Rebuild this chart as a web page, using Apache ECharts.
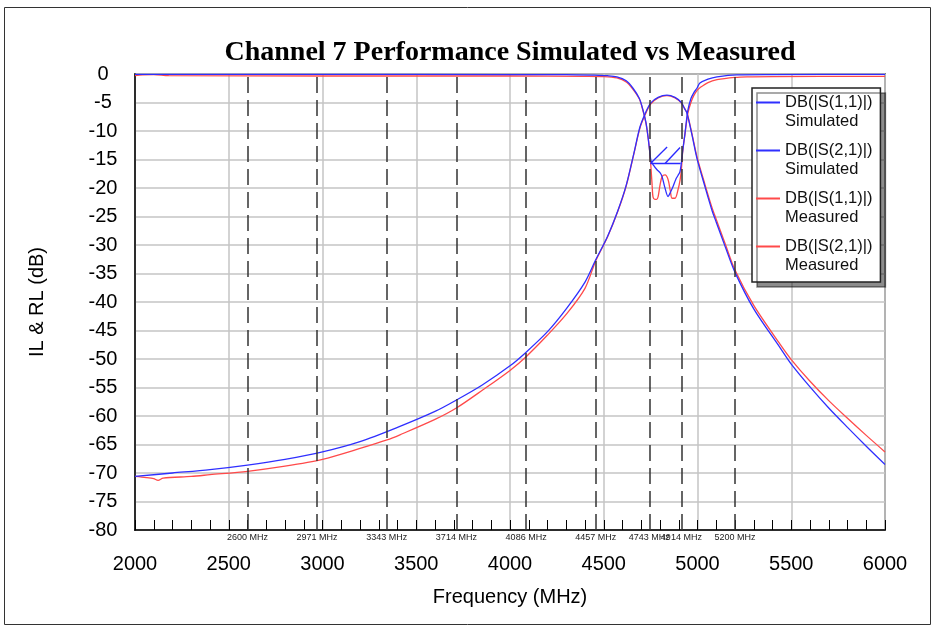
<!DOCTYPE html>
<html>
<head>
<meta charset="utf-8">
<script src="https://cdn.jsdelivr.net/npm/echarts@6/dist/echarts.min.js"></script>
<style>html,body{margin:0;padding:0;background:#fff;}#c{width:935px;height:630px;}</style>
</head>
<body>
<div id="c"></div>
<script>
// ---- data ----
const s21SimFreq = [2000,2200,2400,2600,2800,3000,3200,3400,3600,3714,3850,4000,4086,4200,4300,4400,4457,4520,4576,4620,4660,4693,4720,4750,4790,4837,4880,4914,4930,4944,4970,4997,5040,5077,5100,5150,5200,5300,5440,5500,5600,5700,5800,5900,6000];
const s21Sim     = [-70.6,-70.0,-69.4,-68.6,-67.6,-66.3,-64.5,-62.0,-59.2,-57.2,-54.6,-51.2,-48.8,-45.2,-41.2,-36.5,-32.6,-28.5,-23.9,-19.5,-14.0,-9.3,-7.0,-5.1,-4.1,-3.7,-4.1,-5.0,-6.0,-6.9,-10.6,-14.8,-19.8,-23.9,-26.0,-30.5,-34.8,-41.2,-48.0,-50.9,-54.9,-58.6,-62.0,-65.3,-68.5];

const s21MeasFreq = [2000,2060,2100,2123,2150,2300,2400,2600,2800,3000,3200,3344,3413,3600,3714,3856,4000,4086,4200,4304,4400,4457,4520,4576,4620,4660,4693,4720,4750,4790,4837,4880,4914,4930,4944,4970,4997,5040,5077,5100,5150,5200,5300,5440,5500,5600,5700,5800,5900,6000];
const s21Meas     = [-70.6,-70.8,-71.0,-71.3,-70.9,-70.6,-70.3,-69.7,-68.8,-67.6,-65.7,-64.2,-63.3,-60.6,-58.6,-55.4,-52.0,-49.6,-45.8,-42.0,-37.6,-32.8,-28.6,-24.0,-19.6,-14.1,-9.5,-7.2,-5.3,-4.2,-3.8,-4.2,-5.1,-6.0,-6.8,-10.4,-14.5,-19.4,-23.4,-25.5,-30.0,-34.4,-40.6,-47.4,-50.1,-53.9,-57.3,-60.4,-63.4,-66.3];

const s11SimFreq = [2000,3000,4000,4300,4450,4520,4570,4620,4656,4690,4709,4725,4736,4745,4752,4765,4784,4800,4811,4825,4843,4855,4869,4884,4896,4906,4914,4920,4927,4933,4940,4949,4965,4980,4997,5013,5056,5104,5210,5400,6000];
const s11Sim     = [-0.05,-0.05,-0.1,-0.1,-0.2,-0.3,-0.5,-1.2,-2.5,-4.3,-6.3,-8.5,-11.0,-13.5,-15.2,-16.0,-16.8,-17.3,-18.0,-19.8,-21.5,-20.8,-19.8,-18.5,-17.8,-17.2,-15.6,-13.8,-12.0,-10.5,-8.5,-6.3,-4.3,-3.3,-2.5,-1.6,-0.9,-0.5,-0.15,-0.1,-0.05];

const s11MeasFreq = [2000,2040,2100,2180,3000,4000,4400,4500,4570,4620,4656,4690,4709,4725,4736,4745,4752,4758,4763,4773,4782,4790,4800,4811,4827,4843,4855,4864,4880,4896,4907,4914,4920,4927,4933,4940,4949,4965,4980,5000,5013,5056,5104,5200,5264,5400,6000];
const s11Meas     = [-0.3,-0.15,-0.1,-0.3,-0.35,-0.35,-0.4,-0.45,-0.7,-1.4,-2.7,-4.4,-6.4,-8.6,-11.0,-13.6,-16.5,-19.5,-21.6,-22.0,-22.0,-21.5,-19.5,-18.0,-17.7,-18.5,-20.5,-21.8,-21.8,-20.3,-18.6,-16.8,-14.0,-12.0,-10.6,-8.8,-6.8,-5.0,-3.8,-2.8,-2.4,-1.5,-1.0,-0.6,-0.5,-0.45,-0.4];

// dashed frequency markers (MHz)
const markerFreqs = [2600,2971,3343,3714,4086,4457,4743,4914,5200];
// return-loss spec line and hatch segments [[f1,dB1],[f2,dB2]]
const specSegments = [
  [[4750,-15.7],[4910,-15.7]],
  [[4749,-15.7],[4838,-12.8]],
  [[4827,-15.7],[4907,-12.9]]
];

const xTicks = {min:2000, max:6000, step:500};
const yTicks = {min:-80, max:0, step:5};

const names = ['DB(|S(1,1)|)\nSimulated','DB(|S(2,1)|)\nSimulated','DB(|S(1,1)|)\nMeasured','DB(|S(2,1)|)\nMeasured'];
const BLUE = '#2f2fff', RED = '#ff4a4a';

const zip = (f, v) => f.map((x, i) => [x, v[i]]);
const legendIcon = 'path://M0,0L0.5,0L0.5,0.01L0,0.01Z M0,8.6L24,8.6L24,10.4L0,10.4Z M0,37.99L0.5,37.99L0.5,38L0,38Z';

const chart = echarts.init(document.getElementById('c'), null, {renderer:'canvas'});
const font = 'Liberation Sans, Arial, sans-serif';

chart.setOption({
  animation: false,
  backgroundColor: '#fff',
  title: {
    text: 'Channel 7 Performance Simulated vs Measured',
    left: 505, top: 34, textAlign: 'center',
    textStyle: {fontFamily: 'Liberation Serif, Times New Roman, serif', fontWeight: 'bold', fontSize: 28, color: '#000'}
  },
  graphic: [{
    type: 'rect', silent: true, z: -1,
    shape: {x: 4.5, y: 7.5, width: 926, height: 617},
    style: {fill: 'none', stroke: '#333', lineWidth: 1}
  }],
  grid: {left: 135, right: 50, top: 74, bottom: 100, show: true, borderColor: '#808080', borderWidth: 2, backgroundColor: 'transparent'},
  legend: {
    orient: 'vertical', left: 752, top: 88,
    itemWidth: 24, itemHeight: 38, itemGap: 10,
    padding: [5, 8, 7, 4],
    backgroundColor: '#fff', borderColor: '#222', borderWidth: 1.5,
    shadowColor: 'rgba(0,0,0,0.45)', shadowBlur: 0, shadowOffsetX: 5, shadowOffsetY: 5,
    itemStyle: {borderWidth: 0},
    textStyle: {fontFamily: font, fontSize: 16.5, lineHeight: 19, color: '#111'},
    data: names.map(n => ({name: n, icon: legendIcon}))
  },
  xAxis: {
    type: 'value', min: xTicks.min, max: xTicks.max, interval: xTicks.step,
    name: 'Frequency (MHz)', nameLocation: 'middle', nameGap: 57,
    nameTextStyle: {fontFamily: font, fontSize: 20, color: '#000'},
    axisLine: {show: true, onZero: false, lineStyle: {color: '#000', width: 1.5}},
    axisTick: {show: true, inside: true, length: 10, lineStyle: {color: '#000', width: 1}},
    minorTick: {show: true, splitNumber: 5, length: 10, lineStyle: {color: '#000', width: 1}},
    axisLabel: {fontFamily: font, fontSize: 20, color: '#000', margin: 24, formatter: v => String(v)},
    splitLine: {show: true, lineStyle: {color: '#c4c4c4', width: 1.5}}
  },
  yAxis: {
    type: 'value', min: yTicks.min, max: yTicks.max, interval: yTicks.step,
    name: 'IL & RL (dB)', nameLocation: 'middle', nameGap: 88, nameRotate: 90,
    nameTextStyle: {fontFamily: font, fontSize: 20, color: '#000'},
    axisLine: {show: true, onZero: false, lineStyle: {color: '#000', width: 1.5}},
    axisTick: {show: false},
    axisLabel: {fontFamily: font, fontSize: 20, color: '#000', margin: 32, align: 'center', formatter: v => String(v)},
    splitLine: {show: true, lineStyle: {color: '#c4c4c4', width: 1.5}}
  },
  series: [
    {
      name: names[2], type: 'line', showSymbol: false, smooth: 0.3, data: zip(s11MeasFreq, s11Meas),
      color: RED, lineStyle: {color: RED, width: 1.3}, z: 2,
      markLine: {
        silent: true, symbol: ['none', 'none'], animation: false,
        lineStyle: {type: [16, 7], color: '#333', width: 1.5},
        label: {show: true, position: 'start', distance: 3, formatter: p => p.value + ' MHz', fontFamily: font, fontSize: 9, color: '#222'},
        data: markerFreqs.map(f => ({xAxis: f}))
      }
    },
    {name: names[3], type: 'line', showSymbol: false, smooth: 0.3, data: zip(s21MeasFreq, s21Meas), color: RED, lineStyle: {color: RED, width: 1.3}, z: 2},
    {name: names[0], type: 'line', showSymbol: false, smooth: 0.3, data: zip(s11SimFreq, s11Sim), color: BLUE, lineStyle: {color: BLUE, width: 1.3}, z: 3},
    {name: names[1], type: 'line', showSymbol: false, smooth: 0.3, data: zip(s21SimFreq, s21Sim), color: BLUE, lineStyle: {color: BLUE, width: 1.3}, z: 3},
    {
      name: 'spec', type: 'lines', coordinateSystem: 'cartesian2d', silent: true, z: 4,
      lineStyle: {color: '#2a2aff', width: 1.3, opacity: 1},
      data: specSegments.map(s => ({coords: s}))
    }
  ]
});
</script>
</body>
</html>
